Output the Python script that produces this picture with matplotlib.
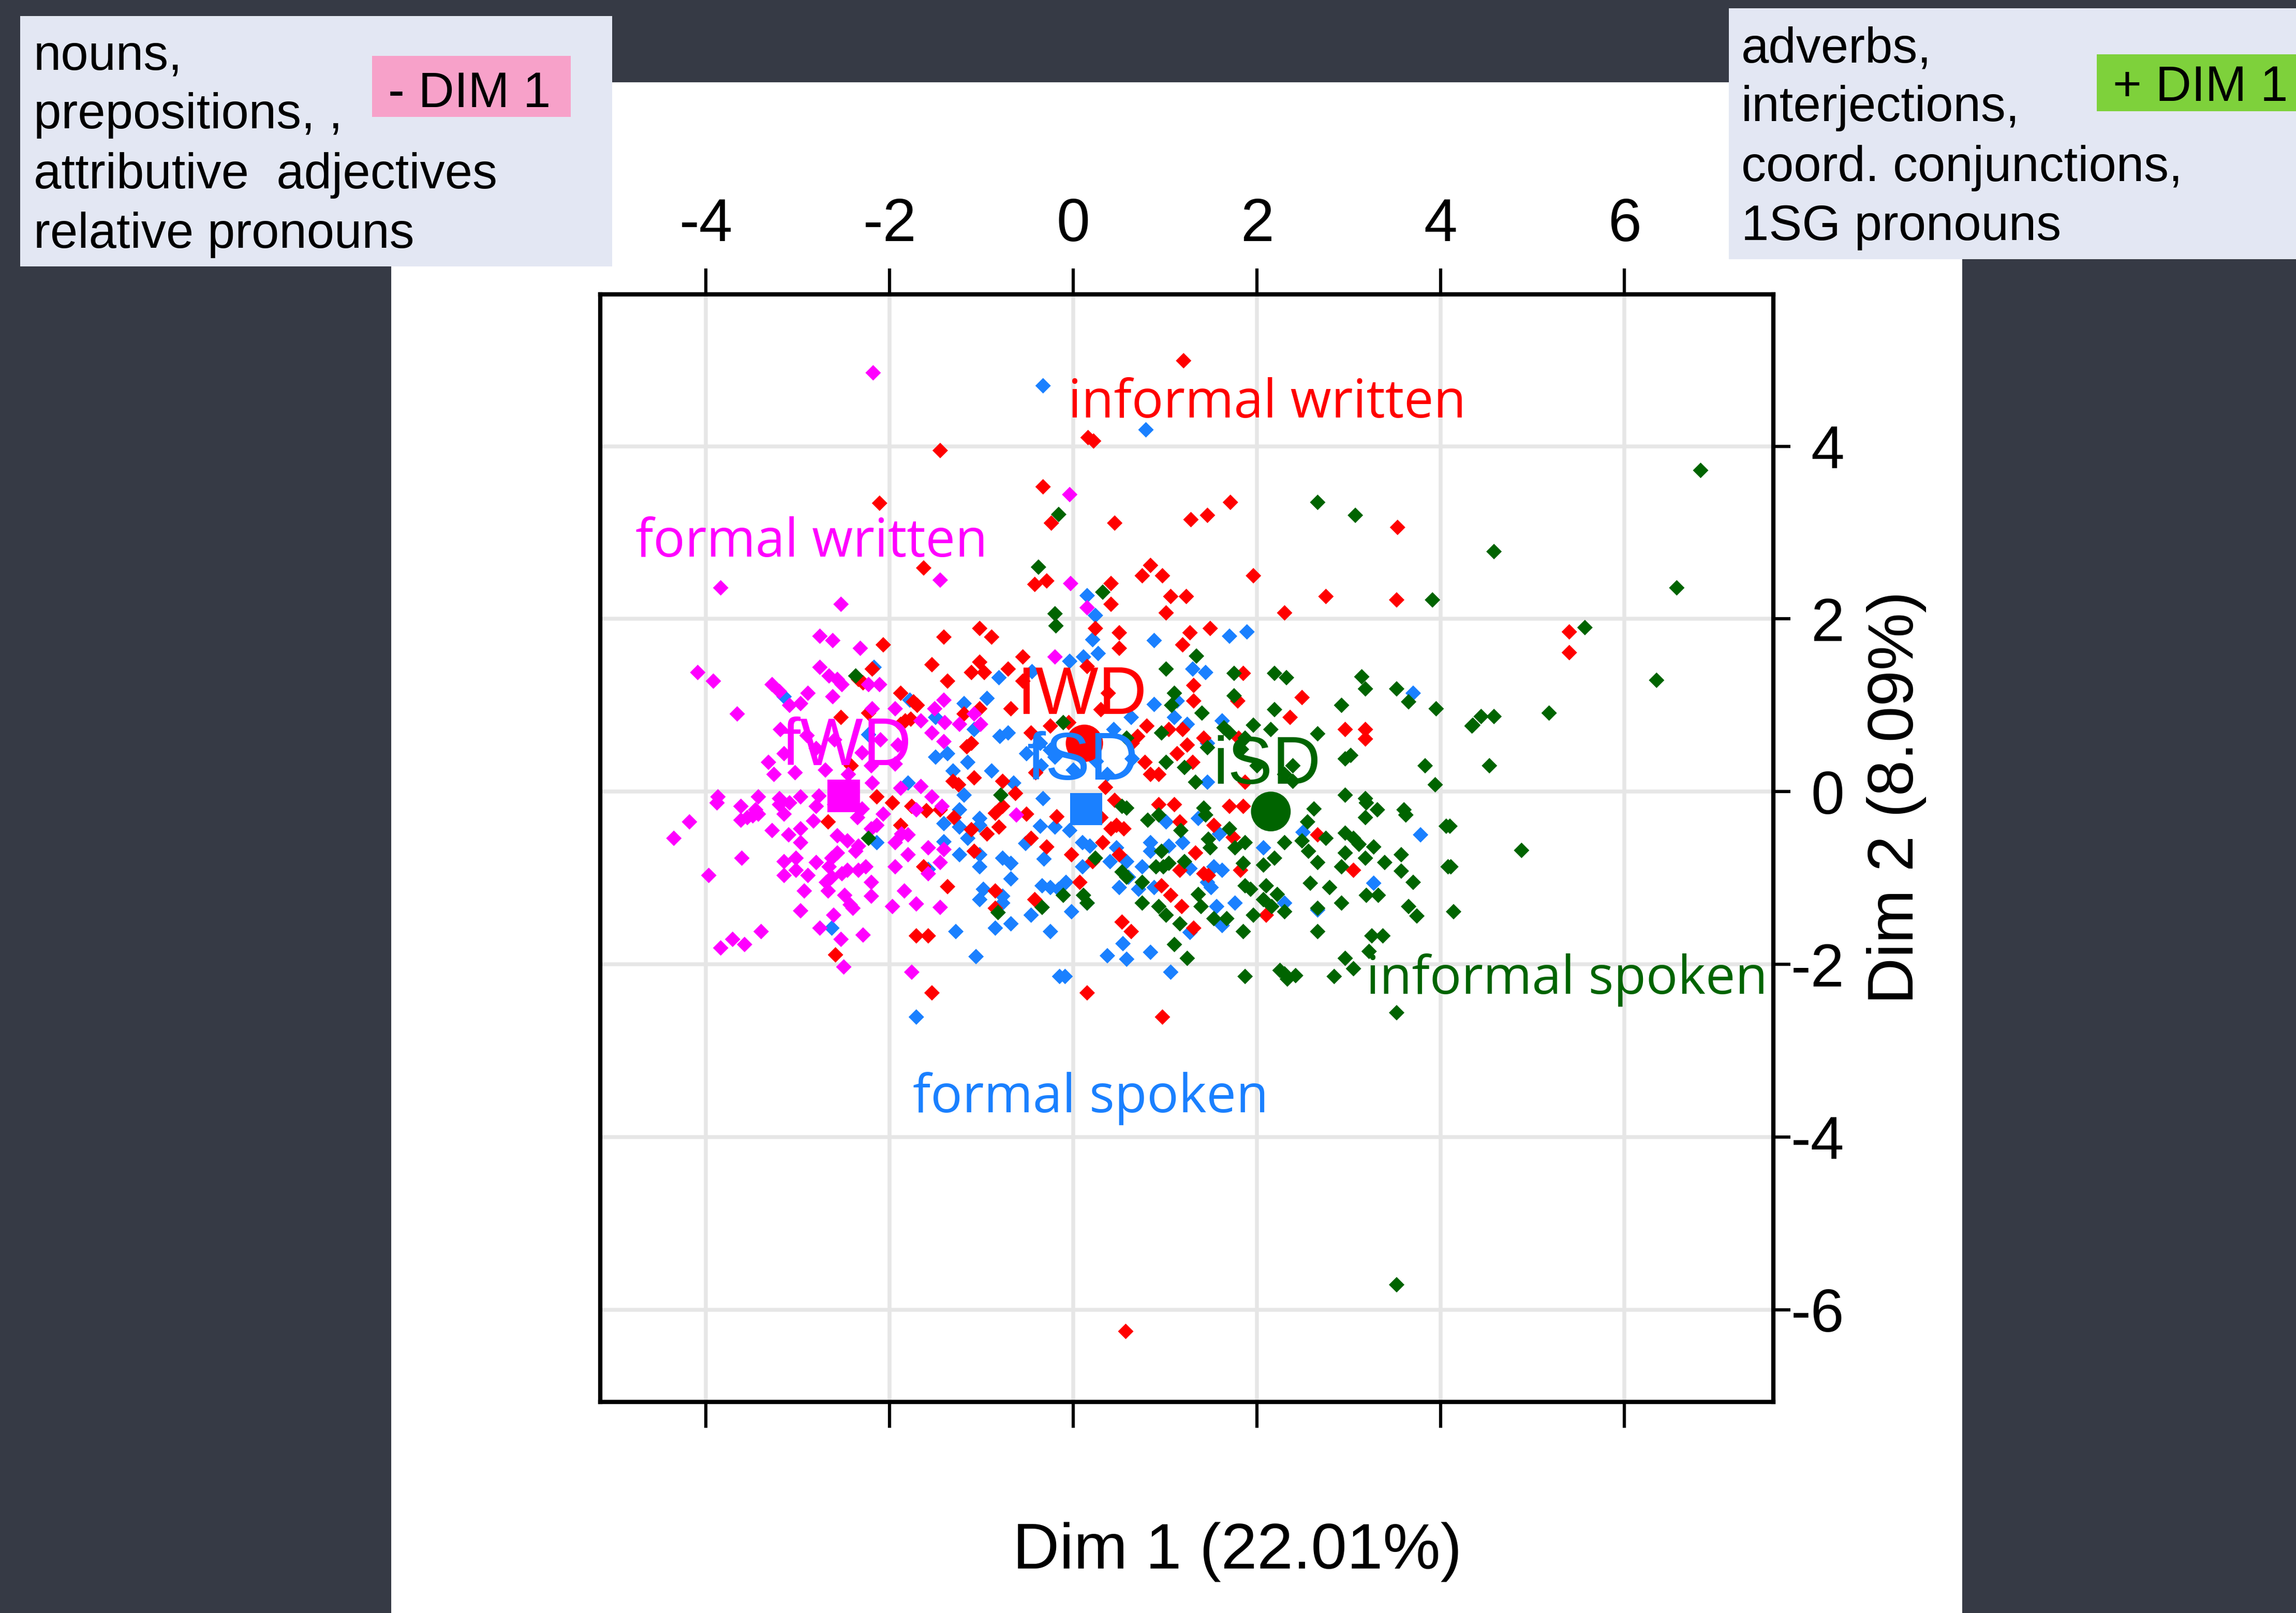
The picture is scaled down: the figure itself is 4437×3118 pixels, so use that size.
import matplotlib.pyplot as plt
from matplotlib.patches import Rectangle

plt.rcParams['axes.unicode_minus'] = False

# individuals (Dim 1, Dim 2)
formal_written = [
    (-2.18, 4.85), (-3.84, 2.36), (-2.53, 2.17), (-1.45, 2.45), (-0.04, 3.44), (-0.03, 2.41), (0.15, 2.13),
    (-2.76, 1.80), (-2.62, 1.75), (-2.32, 1.66), (-4.09, 1.38), (-3.92, 1.28), (-2.76, 1.44), (-2.66, 1.34),
    (-2.57, 1.30), (-2.52, 1.24), (-3.28, 1.24), (-3.20, 1.16), (-3.09, 1.00), (-2.97, 1.02), (-2.89, 1.14),
    (-2.62, 1.10), (-2.23, 1.24), (-2.11, 1.24), (-3.66, 0.90), (-2.19, 0.96), (-3.19, 0.72), (-3.32, 0.34),
    (-3.26, 0.20), (-3.15, 0.44), (-3.03, 0.22), (-1.91, 0.54), (-1.94, 0.32), (-1.41, 1.06), (-1.51, 0.96),
    (-1.40, 0.80), (-1.54, 0.68), (-1.41, 0.58), (-1.24, 0.78), (-1.01, 0.78), (-1.08, 0.90), (-1.94, 0.96),
    (-1.66, 0.82), (-0.20, 1.56), (-2.19, 0.10), (-1.88, 0.04), (-1.66, 0.06), (-1.54, -0.06), (-3.87, -0.06),
    (-3.43, -0.06), (-3.20, -0.08), (-2.97, -0.06), (-2.77, -0.05), (-2.80, 0.50), (-2.60, 0.60), (-2.30, 0.45),
    (-2.20, 0.30), (-2.70, 0.25), (-2.45, 0.20), (-2.90, 0.65), (-2.10, 0.60), (-3.88, -0.13), (-3.62, -0.17),
    (-3.46, -0.21), (-4.18, -0.35), (-4.35, -0.54), (-3.62, -0.33), (-3.55, -0.30), (-3.49, -0.28), (-3.43, -0.26),
    (-3.15, -0.26), (-3.20, -0.15), (-3.09, -0.13), (-2.80, -0.17), (-2.83, -0.34), (-3.28, -0.45), (-3.10, -0.50),
    (-2.97, -0.43), (-2.97, -0.59), (-2.57, -0.51), (-2.46, -0.57), (-2.34, -0.63), (-2.37, -0.69), (-2.20, -0.43),
    (-2.14, -0.39), (-2.07, -0.26), (-3.61, -0.77), (-3.15, -0.81), (-3.02, -0.77), (-3.15, -0.97), (-3.02, -0.91),
    (-2.89, -0.97), (-2.80, -0.82), (-2.63, -0.77), (-2.57, -0.71), (-2.66, -0.87), (-2.63, -0.99), (-2.52, -0.95),
    (-2.46, -0.91), (-2.69, -1.05), (-2.34, -0.91), (-2.26, -0.87), (-2.20, -1.05), (-2.20, -1.21), (-2.93, -1.15),
    (-2.67, -1.15), (-2.49, -1.20), (-2.43, -1.31), (-2.40, -1.35), (-2.97, -1.38), (-2.61, -1.43), (-2.76, -1.58),
    (-2.53, -1.71), (-2.29, -1.66), (-3.40, -1.62), (-3.71, -1.71), (-3.58, -1.77), (-3.84, -1.81), (-3.97, -0.97),
    (-2.50, -2.03), (-1.94, -0.87), (-1.94, -0.59), (-1.80, -0.50), (-1.80, -0.73), (-1.87, -0.49), (-1.97, -1.33),
    (-1.84, -1.15), (-1.71, -1.30), (-1.45, -1.34), (-1.58, -0.65), (-1.41, -0.67), (-1.45, -0.82), (-1.58, -0.95),
    (-1.76, -2.09), (-1.71, -0.21), (-1.43, -0.17), (-0.62, -0.27), (-2.60, -0.15), (-2.40, -0.15), (-2.30, -0.20),
    (-2.35, -0.30),
]

informal_written = [
    (1.20, 4.99), (0.16, 4.10), (0.22, 4.06), (-1.45, 3.95), (-0.33, 3.53), (-2.11, 3.34), (-0.24, 3.11),
    (0.45, 3.11), (1.28, 3.15), (1.46, 3.20), (1.71, 3.35), (3.53, 3.06), (-1.63, 2.59), (-0.42, 2.40),
    (-0.29, 2.44), (-1.41, 1.79), (-1.02, 1.89), (-0.89, 1.79), (-2.07, 1.70), (-1.54, 1.47), (-0.55, 1.56),
    (-1.02, 1.50), (-1.11, 1.38), (-0.97, 1.38), (-0.71, 1.42), (-0.55, 1.28), (-1.37, 1.28), (-2.19, 1.42),
    (-2.34, 1.30), (-2.29, 1.26), (-1.88, 1.14), (-1.74, 1.04), (-1.70, 1.00), (-2.53, 0.86), (-2.23, 0.91),
    (-1.88, 0.78), (-1.83, 0.82), (-1.77, 0.84), (-1.02, 0.96), (-1.19, 0.90), (-0.68, 0.96), (-0.46, 0.68),
    (-0.25, 0.76), (-1.16, 0.52), (-1.11, 0.56), (-2.42, 0.30), (-1.08, 0.16), (-1.31, 0.12), (-1.25, 0.08),
    (-0.77, 0.12), (-0.63, -0.02), (-0.41, 0.22), (-2.14, -0.06), (0.84, 2.62), (0.75, 2.50), (0.97, 2.50),
    (0.41, 2.41), (0.41, 2.17), (1.06, 2.26), (1.23, 2.26), (1.01, 2.07), (1.96, 2.50), (2.75, 2.26),
    (2.30, 2.07), (3.52, 2.22), (0.24, 1.89), (0.50, 1.84), (0.50, 1.66), (1.27, 1.84), (1.49, 1.89),
    (1.19, 1.70), (1.85, 1.37), (1.31, 1.23), (1.31, 1.05), (1.79, 1.05), (2.49, 1.09), (2.36, 0.86),
    (2.96, 0.72), (3.18, 0.72), (3.18, 0.61), (0.38, 1.14), (0.80, 0.76), (0.70, 0.64), (0.64, 0.56),
    (1.04, 0.72), (1.19, 0.72), (1.42, 0.62), (1.13, 0.44), (1.24, 0.54), (0.78, 0.34), (1.30, 0.34),
    (0.84, 0.20), (0.93, 0.20), (1.80, 0.62), (1.87, 0.11), (0.15, 1.45), (0.30, 0.95), (-0.05, 0.80),
    (-2.67, -0.35), (-1.97, -0.13), (-1.76, -0.17), (-1.60, -0.22), (-1.45, -0.21), (-1.88, -0.39), (-1.30, -0.30),
    (-1.11, -0.44), (-0.94, -0.49), (-0.81, -0.41), (-0.85, -0.25), (-0.77, -0.17), (-0.51, -0.26), (-0.46, -0.54),
    (-0.29, -0.64), (-1.08, -0.69), (-1.63, -0.87), (-1.37, -1.10), (-0.85, -1.15), (-0.85, -1.35), (-0.42, -1.25),
    (-1.71, -1.67), (-1.58, -1.67), (-2.59, -1.89), (-1.54, -2.33), (-0.18, -0.29), (-0.02, -0.73), (0.32, -0.59),
    (0.41, -0.43), (0.47, -0.39), (0.55, -0.43), (0.21, -0.81), (0.50, -0.73), (0.07, -1.05), (0.53, -1.51),
    (0.63, -1.62), (0.15, -2.33), (0.97, -2.61), (0.93, -0.15), (1.10, -0.15), (1.16, -0.35), (1.33, -0.71),
    (1.16, -0.91), (0.96, -1.09), (1.06, -1.20), (1.53, -0.39), (1.74, -0.53), (1.82, -0.91), (1.42, -0.95),
    (1.47, -0.97), (1.18, -1.33), (1.31, -1.58), (2.10, -1.43), (2.66, -0.50), (3.05, -0.91), (1.70, -0.17),
    (1.85, -0.17), (5.40, 1.85), (5.40, 1.61), (0.57, -6.25), (0.35, 0.05), (0.45, -0.10), (0.30, -0.30),
]

formal_spoken = [
    (-0.33, 4.70), (0.79, 4.19), (-2.17, 1.44), (-3.15, 1.10), (-1.78, 1.06), (-0.81, 1.32), (-0.45, 1.39),
    (-0.94, 1.08), (-1.19, 1.02), (-1.50, 0.86), (-1.08, 0.72), (-0.80, 0.64), (-0.71, 0.68), (-2.23, 0.66),
    (-1.50, 0.40), (-1.37, 0.44), (-1.15, 0.34), (-1.31, 0.24), (-0.89, 0.24), (-0.51, 0.44), (-0.36, 0.56),
    (-0.25, 0.48), (-1.80, 0.10), (-1.19, -0.04), (-0.65, 0.10), (-0.33, -0.08), (0.15, 2.27), (0.24, 2.04),
    (0.21, 1.76), (0.27, 1.60), (0.11, 1.56), (-0.04, 1.51), (0.88, 1.75), (1.70, 1.80), (1.89, 1.85),
    (1.30, 1.42), (1.44, 1.38), (0.88, 1.01), (1.13, 1.05), (1.10, 0.86), (0.63, 0.86), (1.24, 0.78),
    (1.62, 0.82), (3.70, 1.14), (0.44, 0.72), (1.46, 0.56), (1.46, 0.11), (0.64, 0.38), (0.37, 0.20),
    (-0.20, 0.40), (0.00, 0.25), (-0.35, 0.30), (0.25, 0.35), (-1.24, -0.21), (-1.41, -0.37), (-1.24, -0.41),
    (-1.02, -0.31), (-1.02, -0.39), (-1.15, -0.54), (-1.41, -0.58), (-1.24, -0.73), (-1.02, -0.73), (-1.02, -0.87),
    (-0.77, -0.77), (-0.68, -0.83), (-0.68, -1.01), (-0.36, -0.40), (-0.20, -0.41), (-0.32, -0.78), (-0.52, -0.60),
    (-0.98, -1.13), (-1.02, -1.25), (-0.77, -1.21), (-0.77, -1.29), (-0.34, -1.09), (-0.25, -1.11), (-0.16, -1.13),
    (-0.46, -1.43), (-0.68, -1.53), (-0.85, -1.58), (-1.28, -1.62), (-0.25, -1.62), (-1.06, -1.91), (-1.71, -2.61),
    (-2.63, -1.58), (-2.14, -0.59), (-1.58, -0.90), (-0.15, -2.14), (-0.04, -0.45), (-0.08, -1.05), (0.10, -0.59),
    (0.18, -0.63), (0.40, -0.81), (0.58, -0.81), (0.47, -0.65), (0.10, -0.87), (0.60, -0.99), (0.50, -1.11),
    (0.71, -1.13), (0.88, -1.11), (0.15, -1.29), (-0.02, -1.39), (0.84, -0.59), (0.84, -0.69), (1.04, -0.63),
    (1.19, -0.59), (0.75, -0.87), (1.27, -0.89), (1.53, -0.87), (1.62, -0.91), (1.46, -1.05), (1.50, -1.11),
    (1.01, -0.35), (1.36, -0.31), (1.59, -0.49), (1.56, -1.33), (1.62, -1.55), (1.76, -1.29), (2.07, -0.65),
    (2.30, -1.29), (1.27, -1.63), (0.54, -1.76), (0.37, -1.90), (0.58, -1.94), (0.84, -1.86), (1.06, -2.09),
    (-0.09, -2.14), (2.50, -0.47), (2.66, -1.37), (3.27, -1.06), (3.78, -0.50),
]

informal_spoken = [
    (-0.16, 3.21), (2.66, 3.35), (3.07, 3.20), (-0.38, 2.60), (-0.20, 2.06), (-0.19, 1.92), (-2.37, 1.34),
    (-0.79, -0.04), (0.32, 2.31), (3.91, 2.22), (1.34, 1.57), (1.01, 1.42), (1.75, 1.37), (2.19, 1.37),
    (2.32, 1.32), (3.14, 1.33), (3.18, 1.19), (3.52, 1.19), (3.65, 1.04), (3.95, 0.96), (4.34, 0.76),
    (1.10, 1.14), (1.07, 1.00), (1.40, 0.91), (1.75, 1.11), (2.19, 0.95), (2.92, 1.00), (1.96, 0.77),
    (2.15, 0.72), (2.66, 0.67), (0.96, 0.68), (1.64, 0.74), (1.70, 0.68), (1.87, 0.62), (0.58, 0.62),
    (-0.11, 0.80), (3.02, 0.42), (2.96, 0.38), (3.83, 0.30), (3.94, 0.08), (1.01, 0.34), (1.21, 0.28),
    (1.46, 0.51), (1.83, 0.49), (1.33, 0.11), (2.39, 0.30), (2.39, 0.12), (2.96, -0.04), (3.18, -0.08),
    (2.00, 0.30), (2.30, 0.20), (-2.23, -0.54), (-0.82, -1.40), (-0.34, -1.34), (0.53, -0.17), (0.58, -0.19),
    (0.81, -0.33), (0.93, -0.27), (1.42, -0.19), (1.44, -0.27), (1.17, -0.45), (1.47, -0.55), (1.49, -0.65),
    (1.70, -0.43), (1.87, -0.59), (1.76, -0.65), (0.96, -0.69), (0.90, -0.87), (0.98, -0.87), (1.04, -0.83),
    (1.21, -0.81), (0.53, -0.93), (0.58, -0.99), (0.75, -1.05), (0.75, -1.29), (0.93, -1.33), (1.01, -1.43),
    (1.16, -1.53), (1.36, -1.19), (1.39, -1.33), (1.53, -1.47), (1.67, -1.47), (1.85, -0.83), (1.87, -1.09),
    (1.93, -1.13), (2.10, -1.09), (2.07, -1.25), (2.22, -1.19), (2.16, -1.33), (2.30, -1.39), (1.96, -1.43),
    (1.85, -1.62), (1.10, -1.77), (1.24, -1.93), (-0.11, -1.20), (0.11, -1.20), (0.15, -1.29), (0.24, -0.77),
    (2.19, -0.77), (2.07, -0.85), (2.30, -0.59), (2.55, -0.35), (2.49, -0.57), (2.56, -0.69), (2.75, -0.54),
    (2.62, -0.20), (2.66, -0.82), (2.96, -0.48), (3.05, -0.54), (3.11, -0.61), (2.96, -0.71), (2.92, -0.87),
    (3.18, -0.77), (3.27, -0.64), (3.18, -0.30), (3.31, -0.21), (3.19, -0.13), (3.39, -0.82), (3.57, -0.73),
    (3.57, -0.92), (3.70, -1.05), (3.60, -0.21), (3.62, -0.27), (2.58, -1.06), (2.79, -1.11), (2.92, -1.29),
    (3.19, -1.20), (3.32, -1.20), (2.66, -1.35), (2.66, -1.62), (3.25, -1.67), (3.37, -1.67), (3.22, -1.85),
    (3.65, -1.33), (3.74, -1.44), (4.06, -0.40), (4.08, -0.87), (4.14, -1.39), (2.96, -1.93), (3.05, -2.05),
    (2.84, -2.14), (1.87, -2.14), (2.25, -2.07), (2.33, -2.17), (2.42, -2.13), (2.30, -2.11), (3.52, -2.56),
    (6.83, 3.72), (4.58, 2.78), (6.57, 2.36), (5.57, 1.90), (6.35, 1.29), (5.18, 0.91), (4.35, 0.77),
    (4.44, 0.87), (4.58, 0.87), (4.53, 0.30), (4.88, -0.68), (4.11, -0.87), (4.10, -0.40), (3.52, -5.71),
]

# group centroids and their labels
centroid_names = ['fWD', 'IWD', 'fSD', 'iSD']
centroid_xy = [(-2.50, -0.05), (0.12, 0.56), (0.14, -0.20), (2.15, -0.23)]
centroid_label_xy = [(-2.47, 0.51), (0.09, 1.10), (0.10, 0.34), (2.11, 0.29)]
centroid_markers = ['s', 'o', 's', 'o']
centroid_sizes = [230, 300, 220, 340]

group_names = ['formal written', 'informal written', 'formal spoken', 'informal spoken']
group_label_xy = [(-4.77, 2.72), (-0.06, 4.33), (-1.75, -3.71), (3.19, -2.34)]
colors = ['#ff00ff', '#ff0000', '#1a80ff', '#006400']

xticks = [-4, -2, 0, 2, 4, 6]
yticks = [-6, -4, -2, 0, 2, 4]

left_lines = ['nouns,', 'prepositions, ,', 'attributive  adjectives', 'relative pronouns']
right_lines = ['adverbs,', 'interjections,', 'coord. conjunctions,', '1SG pronouns']

BG = '#363a45'
BOX = '#e3e7f3'
SANS = ['Liberation Sans', 'DejaVu Sans']
NARROW = ['Liberation Sans Narrow', 'Liberation Sans', 'DejaVu Sans']

fig = plt.figure(figsize=(4437 / 300, 3118 / 300), dpi=300, facecolor=BG)

# white slide picture behind the plot
fig.patches.append(Rectangle((0.1703, 0.0), 0.6843, 0.949, transform=fig.transFigure,
                             facecolor='white', edgecolor='none', zorder=-1))

ax = fig.add_axes([0.2615, 0.1307, 0.7723 - 0.2615, 0.8176 - 0.1307])
ax.set_facecolor('white')

# individuals
order = [2, 1, 0, 3]
groups = [formal_written, informal_written, formal_spoken, informal_spoken]
for i in order:
    xs = [p[0] for p in groups[i]]
    ys = [p[1] for p in groups[i]]
    ax.scatter(xs, ys, marker='D', s=26, color=colors[i], edgecolors='none', zorder=3)

# centroids
for i in range(4):
    ax.scatter([centroid_xy[i][0]], [centroid_xy[i][1]], marker=centroid_markers[i],
               s=centroid_sizes[i], color=colors[i], edgecolors='none', zorder=4)
    ax.text(centroid_label_xy[i][0], centroid_label_xy[i][1], centroid_names[i],
            color=colors[i], fontsize=31, family=NARROW, ha='center', va='center', zorder=5)

# group labels
for i in range(4):
    ax.text(group_label_xy[i][0], group_label_xy[i][1], group_names[i], color=colors[i],
            fontsize=24.5, family=['Open Sans', 'DejaVu Sans'], ha='left', va='baseline', zorder=5)

ax.set_xlim(-5.15, 7.62)
ax.set_ylim(-7.07, 5.76)
ax.set_xticks(xticks)
ax.set_yticks(yticks)
ax.set_xticklabels([str(v) for v in xticks])
ax.set_yticklabels([str(v) for v in yticks])
ax.grid(True, color='#e6e6e6', linewidth=1.8, zorder=0)
ax.set_axisbelow(True)
for sp in ax.spines.values():
    sp.set_linewidth(2.0)
    sp.set_color('black')

ax.tick_params(axis='x', top=True, labeltop=True, bottom=True, labelbottom=False,
               direction='out', length=12, width=1.5, pad=7, labelsize=28)
ax.tick_params(axis='y', right=True, labelright=True, left=False, labelleft=False,
               direction='out', length=8, width=1.5, pad=25, labelsize=28)
for lab in ax.get_xticklabels() + ax.get_yticklabels():
    lab.set_family(SANS)
for lab in ax.get_yticklabels():
    lab.set_horizontalalignment('right')

fig.text(0.539, 0.038, 'Dim 1 (22.01%)', fontsize=30, family=SANS, ha='center', va='center')
fig.text(0.826, 0.5054, 'Dim 2 (8.09%)', fontsize=30, family=SANS, rotation=90, ha='center', va='center')

# annotation boxes at the top
fig.patches.append(Rectangle((0.0089, 0.8348), 0.2577, 0.1552, transform=fig.transFigure,
                             facecolor=BOX, edgecolor='none', zorder=2))
fig.patches.append(Rectangle((0.162, 0.9274), 0.0867, 0.0381, transform=fig.transFigure,
                             facecolor='#f7a1c9', edgecolor='none', zorder=3))
fig.patches.append(Rectangle((0.753, 0.8394), 0.25, 0.1554, transform=fig.transFigure,
                             facecolor=BOX, edgecolor='none', zorder=2))
fig.patches.append(Rectangle((0.9132, 0.931), 0.09, 0.0353, transform=fig.transFigure,
                             facecolor='#7ed13b', edgecolor='none', zorder=3))

for line, y in zip(left_lines, [0.957, 0.9205, 0.8833, 0.8464]):
    fig.text(0.01465, y, line, fontsize=23, family=SANS, va='baseline', zorder=4)
fig.text(0.169, 0.9336, '- DIM 1', fontsize=23, family=SANS, va='baseline', zorder=4)

for line, y in zip(right_lines, [0.9615, 0.925, 0.8877, 0.8512]):
    fig.text(0.7584, y, line, fontsize=23, family=SANS, va='baseline', zorder=4)
fig.text(0.9202, 0.9375, '+ DIM 1', fontsize=23, family=SANS, va='baseline', zorder=4)

fig.savefig('out.png', dpi=300, facecolor=fig.get_facecolor())
